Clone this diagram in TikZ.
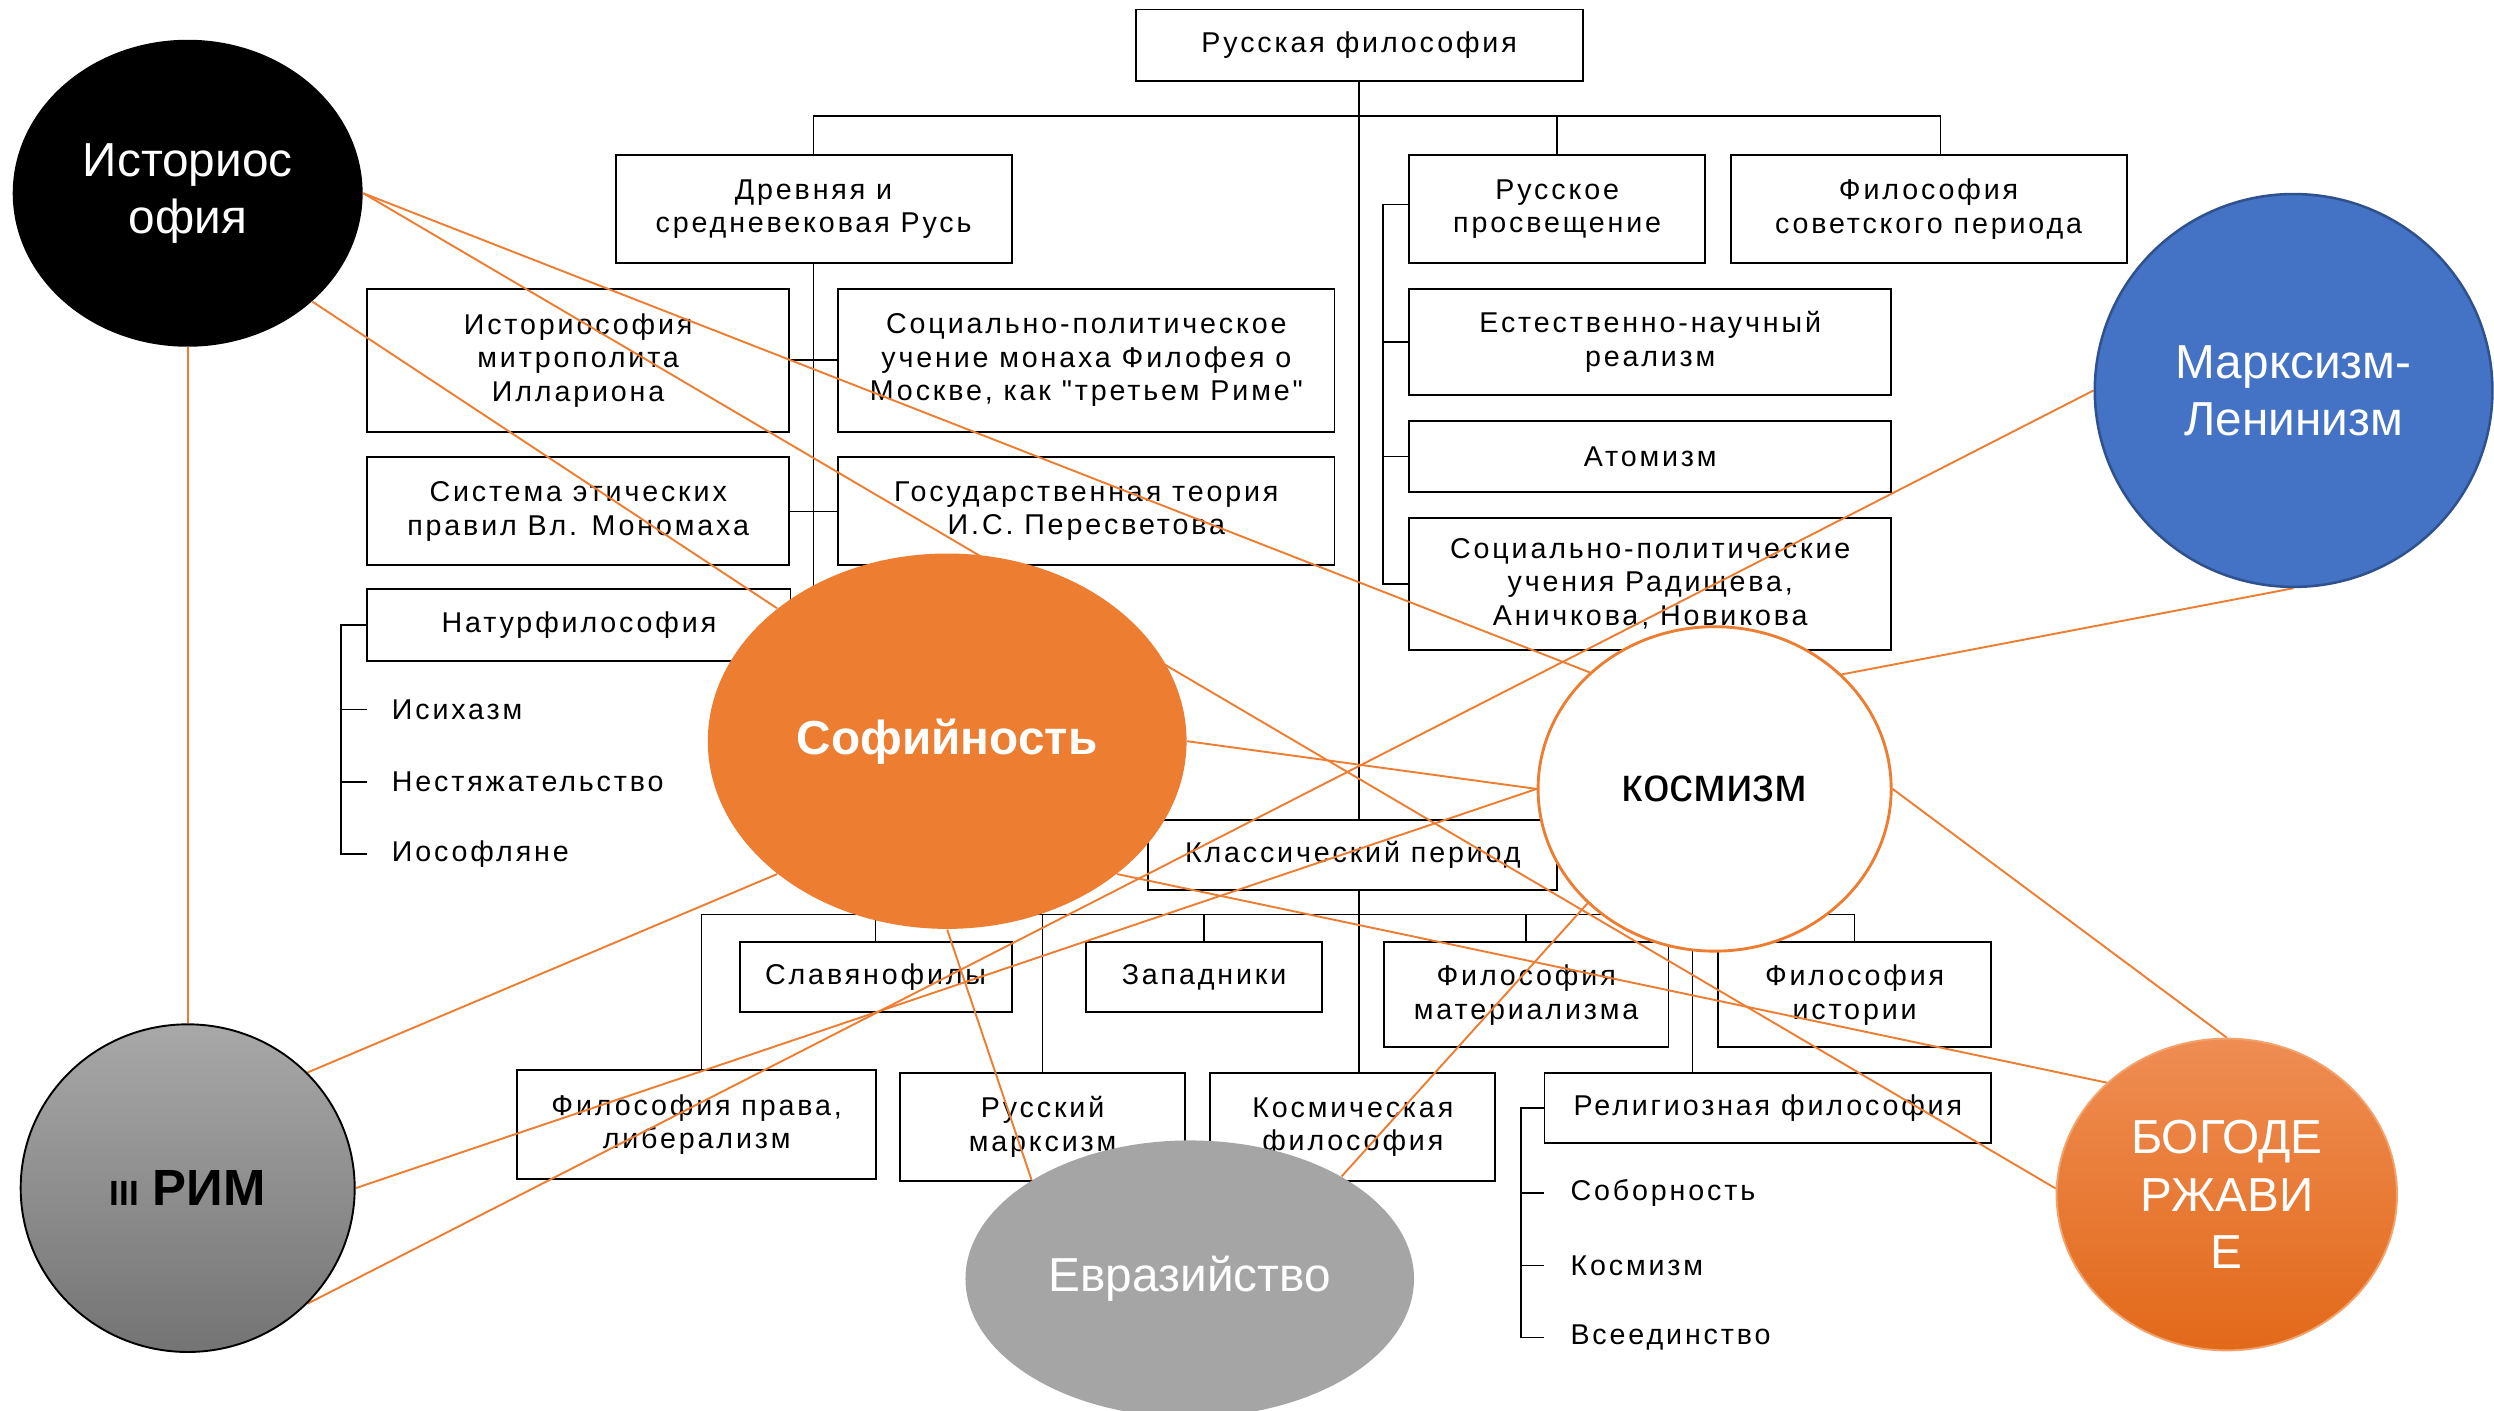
\documentclass[tikz,border=0pt]{standalone}
\usepackage{fontspec}
\setmainfont{Liberation Sans}
\newfontfamily\chartfont[LetterSpace=10]{Liberation Sans}
\usetikzlibrary{positioning,shapes.geometric}
\definecolor{sofiaorange}{HTML}{ED7D31}
\definecolor{marxblue}{HTML}{4472C4}
\definecolor{marxedge}{HTML}{2F528F}
\definecolor{evrgray}{HTML}{A5A5A5}
\definecolor{rimtop}{HTML}{A8A8A8}
\definecolor{rimbottom}{HTML}{747474}
\definecolor{bogtop}{HTML}{EF8D53}
\definecolor{bogbottom}{HTML}{E2691A}
\definecolor{bogedge}{HTML}{F3A26B}
\pgfdeclarelayer{tree}
\pgfdeclarelayer{links}
\pgfsetlayers{tree,links,main}
\tikzset{
  % Specifications for style of nodes:
  base/.style = {
    rectangle,
    draw=black,
    line width=0.6pt,
    fill=white,
    text centered,
    inner sep=0pt,
    font=\chartfont\fontsize{9}{10.5}\selectfont
  },
  topic/.style = {
    base,
    align=center
  },
  listitem/.style = {
    anchor=west,
    inner sep=0pt,
    inner xsep=7.5pt,
    font=\chartfont\fontsize{9}{10.5}\selectfont
  },
  idea/.style = {
    ellipse,
    inner sep=0pt,
    align=center,
    font=\fontsize{15}{18}\selectfont
  },
  treeline/.style = {
    draw=black,
    line width=0.5pt
  },
  linkline/.style = {
    draw=sofiaorange,
    line width=0.6pt
  },
}

\begin{document}
\begin{tikzpicture}[x=0.5pt,y=-0.5pt]
  \useasboundingbox (0,0) rectangle (1568,887);
  \begin{pgfonlayer}{tree}
    \fill[white] (0,0) rectangle (1568,887);
    % Specification of boxes (position, etc.)
    \node[topic, minimum width=140.5pt, minimum height=22.5pt] (root)     at (854.5,28.5) {Русская философия};
    \node[topic, minimum width=124.5pt, minimum height=34pt]   (ancient)  at (511.5,131.5)  {Древняя и\\средневековая Русь};
    \node[topic, minimum width=93pt,    minimum height=34pt]   (enlight)  at (979,131.5)    {Русское\\просвещение};
    \node[topic, minimum width=124.5pt, minimum height=34pt]   (soviet)   at (1212.5,131.5) {Философия\\советского периода};
    \node[topic, minimum width=132.5pt, minimum height=45pt]   (hilarion) at (363.5,226.5)  {Историософия\\митрополита\\Иллариона};
    \node[topic, minimum width=156pt,   minimum height=45pt]   (filofey)  at (683,226.5)    {Социально-политическое\\учение монаха Филофея о\\Москве, как "третьем Риме"};
    \node[topic, minimum width=132.5pt, minimum height=34pt]   (monomakh) at (363.5,321.5)  {Система этических\\правил Вл. Мономаха};
    \node[topic, minimum width=156pt,   minimum height=34pt]   (peresvet) at (683,321.5)    {Государственная теория\\И.С. Пересветова};
    \node[topic, minimum width=133pt,   minimum height=22.5pt] (natur)    at (364,393)  {Натурфилософия};
    \node[topic, minimum width=151.5pt, minimum height=33.5pt] (natsci)   at (1037.5,215) {Естественно-научный\\реализм};
    \node[topic, minimum width=151.5pt, minimum height=22.5pt] (atom)     at (1037.5,287) {Атомизм};
    \node[topic, minimum width=151.5pt, minimum height=41.5pt] (radish)   at (1037.5,367) {Социально-политические\\учения Радищева,\\Аничкова, Новикова};
    \node[topic, minimum width=128.5pt, minimum height=22pt]   (classic)  at (850.5,537.5)  {Классический период};
    \node[topic, minimum width=85.5pt,  minimum height=22pt]   (slav)     at (550.5,614.5)  {Славянофилы};
    \node[topic, minimum width=74pt,    minimum height=22pt]   (west)     at (757,614.5)    {Западники};
    \node[topic, minimum width=89.5pt,  minimum height=33pt]   (mater)    at (959.5,625.5)  {Философия\\материализма};
    \node[topic, minimum width=86pt,    minimum height=33pt]   (histphil) at (1166,625.5)   {Философия\\истории};
    \node[topic, minimum width=113pt,   minimum height=34pt]   (law)      at (438,707)    {Философия права,\\либерализм};
    \node[topic, minimum width=89.5pt,  minimum height=34pt]   (rusmarx)  at (655.5,708.5)  {Русский\\марксизм};
    \node[topic, minimum width=89.5pt,  minimum height=34pt]   (cosmphil) at (850.5,708.5)  {Космическая\\философия};
    \node[topic, minimum width=140.5pt, minimum height=22pt]   (relig)    at (1111.5,696.5) {Религиозная философия};
    % lists
    \node[listitem]                                  (hesych)  at (231,446) {Исихазм};
    \node[listitem, below=22.75pt of hesych.west, anchor=west]  (nonposs) {Нестяжательство};
    \node[listitem, below=22.75pt of nonposs.west, anchor=west] (iosif)   {Иософляне};
    \node[listitem, inner xsep=8pt]                  (sobor)   at (971,750) {Соборность};
    \node[listitem, inner xsep=8pt, below=22.75pt of sobor.west, anchor=west]  (cosmism)  {Космизм};
    \node[listitem, inner xsep=8pt, below=22.75pt of cosmism.west, anchor=west] (unity)   {Всеединство};
    % connectors of the chart
    \coordinate (topbar) at (854,73);
    \coordinate (lowbar) at (854,575);
    \draw[treeline] (root.south) -- (root.south |- classic.north);
    \draw[treeline] (ancient.north) |- (topbar) -| ([xshift=3.75pt]soviet.north);
    \draw[treeline] (enlight.north) -- (enlight.north |- topbar);
    \draw[treeline] (ancient.south) -- (ancient.south |- natur.east) -- (natur.east);
    \draw[treeline] (hilarion.east) -- (filofey.west);
    \draw[treeline] (monomakh.east) -- (peresvet.west);
    \draw[treeline] ([yshift=1.5pt]enlight.west) -- ++(-8pt,0) |- (radish.west);
    \draw[treeline] (natsci.west) -- ++(-8pt,0);
    \draw[treeline] (atom.west) -- ++(-8pt,0);
    \draw[treeline] (natur.west) -- ++(-8pt,0) |- (iosif.west);
    \draw[treeline] (hesych.west) -- ++(-8pt,0);
    \draw[treeline] (nonposs.west) -- ++(-8pt,0);
    \draw[treeline] (classic.south -| root.south) -- (cosmphil.north -| root.south);
    \draw[treeline] ([xshift=1.5pt]law.north) |- (lowbar) -| (histphil.north);
    \foreach \n in {slav, rusmarx, west, mater}
      \draw[treeline] (\n.north) -- (\n.north |- lowbar);
    \draw[treeline] ([xshift=-23.75pt]relig.north) -- ([xshift=-23.75pt]relig.north |- lowbar);
    \draw[treeline] (relig.west) -- ++(-7pt,0) |- (unity.west);
    \draw[treeline] (sobor.west) -- ++(-7pt,0);
    \draw[treeline] (cosmism.west) -- ++(-7pt,0);
  \end{pgfonlayer}

  % Specification of ideas
  \node[idea, fill=black, text=white, minimum width=110pt, minimum height=96.5pt] (hist) at (118,121.5) {Историос\\офия};
  \node[idea, fill=marxblue, draw=marxedge, line width=0.8pt, text=white, minimum width=125pt, minimum height=123.5pt] (marx) at (1442,245.5) {Марксизм-\\Ленинизм};
  \node[idea, fill=sofiaorange, text=white, font=\bfseries\fontsize{15}{18}\selectfont, minimum width=150.5pt, minimum height=118pt] (sof) at (595.5,466) {Софийность};
  \node[idea, fill=white, draw=sofiaorange, line width=0.9pt, minimum width=111pt, minimum height=102pt] (kosm) at (1078,496) {космизм};
  \node[idea, top color=rimtop, bottom color=rimbottom, draw=black, line width=0.6pt, font=\bfseries\fontsize{16}{18}\selectfont, minimum width=105pt, minimum height=103pt] (rim) at (118,747) {{\fontsize{11}{13}\selectfont III} РИМ};
  \node[idea, fill=evrgray, text=white, minimum width=141pt, minimum height=87pt] (evr) at (748,804) {Евразийство};
  \node[idea, top color=bogtop, bottom color=bogbottom, draw=bogedge, line width=0.6pt, text=white, minimum width=107pt, minimum height=98pt] (bog) at (1400,751) {БОГОДЕ\\РЖАВИ\\Е};

  \begin{pgfonlayer}{links}
    \draw[linkline] (hist.east) -- (kosm.137);
    \draw[linkline] (hist.east) -- (bog.178);
    \draw[linkline] (hist.-41) -- (sof.142);
    \draw[linkline] (hist.south) -- (rim.north);
    \draw[linkline] (sof.east) -- (kosm.west);
    \draw[linkline] (sof.-38) -- (bog.137);
    \draw[linkline] (sof.218) -- (rim.44);
    \draw[linkline] (sof.south) -- (evr.148);
    \draw[linkline] (rim.east) -- (kosm.west);
    \draw[linkline] (rim.-44) -- (marx.west);
    \draw[linkline] (marx.south) -- (kosm.42);
    \draw[linkline] (kosm.east) -- (bog.north);
    \draw[linkline] (kosm.222) -- (evr.34);
  \end{pgfonlayer}
\end{tikzpicture}
\end{document}
